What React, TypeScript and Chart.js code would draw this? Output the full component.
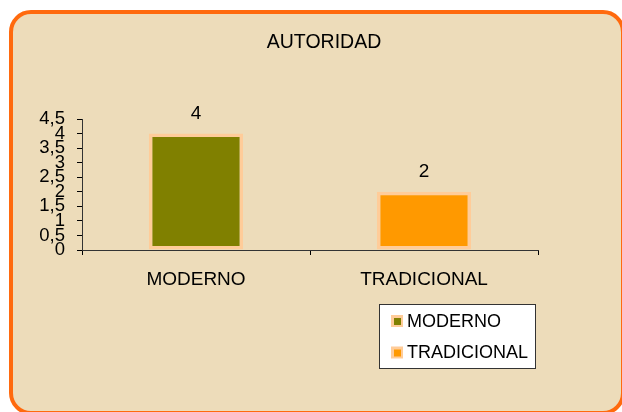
import React, { useEffect, useRef } from "react";
import { Chart, registerables } from "chart.js";

Chart.register(...registerables);

const TITLE = "AUTORIDAD";
const CATEGORIES = ["MODERNO", "TRADICIONAL"];
const VALUES = [4, 2];
const BAR_COLORS = ["#808000", "#FF9900"];
const Y_MIN = 0;
const Y_MAX = 4.5;
const Y_STEP = 0.5;

const FONT = "'Liberation Sans', Arial, sans-serif";

const framePlugin = {
  id: "frame",
  beforeDraw(chart: any) {
    const ctx = chart.ctx;
    ctx.save();
    ctx.fillStyle = "#ffffff";
    ctx.fillRect(0, 0, chart.width, chart.height);
    const x = 11, y = 12, w = 612, h = 401, r = 20;
    ctx.beginPath();
    ctx.moveTo(x + r, y);
    ctx.lineTo(x + w - r, y);
    ctx.arcTo(x + w, y, x + w, y + r, r);
    ctx.lineTo(x + w, y + h - r);
    ctx.arcTo(x + w, y + h, x + w - r, y + h, r);
    ctx.lineTo(x + r, y + h);
    ctx.arcTo(x, y + h, x, y + h - r, r);
    ctx.lineTo(x, y + r);
    ctx.arcTo(x, y, x + r, y, r);
    ctx.closePath();
    ctx.fillStyle = "#EDDCBA";
    ctx.fill();
    ctx.lineWidth = 4;
    ctx.strokeStyle = "#FF6A0E";
    ctx.stroke();
    // title
    ctx.fillStyle = "#000";
    ctx.font = `19.5px ${FONT}`;
    ctx.textAlign = "center";
    ctx.textBaseline = "middle";
    ctx.fillText(TITLE, 324, 43);
    ctx.restore();
  },
  afterDatasetsDraw(chart: any) {
    const ctx = chart.ctx;
    const meta = chart.getDatasetMeta(0);
    ctx.save();
    ctx.fillStyle = "#000";
    ctx.font = `19px ${FONT}`;
    ctx.textAlign = "center";
    ctx.textBaseline = "middle";
    meta.data.forEach((el: any, i: number) => {
      ctx.fillText(String(VALUES[i]), el.x, el.y - 20);
    });
    ctx.restore();
  },
  afterDraw(chart: any) {
    const ctx = chart.ctx;
    ctx.save();
    const bx = 379.5, by = 304.5, bw = 156, bh = 64;
    ctx.fillStyle = "#ffffff";
    ctx.fillRect(bx, by, bw, bh);
    ctx.strokeStyle = "#333333";
    ctx.lineWidth = 1;
    ctx.strokeRect(bx, by, bw, bh);
    ctx.font = `18px ${FONT}`;
    ctx.textAlign = "left";
    ctx.textBaseline = "middle";
    CATEGORIES.forEach((c, i) => {
      const cy = 321 + i * 31.5;
      ctx.fillStyle = "#FFCC99";
      ctx.fillRect(391, cy - 6, 12, 12);
      ctx.fillStyle = BAR_COLORS[i];
      ctx.fillRect(394, cy - 3, 7, 7);
      ctx.fillStyle = "#000";
      ctx.fillText(c, 407, cy + 1);
    });
    ctx.restore();
  },
};

export default function App() {
  const ref = useRef<HTMLCanvasElement | null>(null);
  useEffect(() => {
    if (!ref.current) return;
    const chart = new Chart(ref.current, {
      type: "bar",
      data: {
        labels: CATEGORIES,
        datasets: [
          {
            data: VALUES,
            backgroundColor: BAR_COLORS,
            borderColor: "#FFCC99",
            borderWidth: 3.5,
            borderSkipped: false,
            barPercentage: 0.413,
            categoryPercentage: 1,
          },
        ],
      },
      options: {
        responsive: false,
        animation: false,
        layout: { padding: { top: 119, right: 84, left: 0, bottom: 0 } },
        plugins: {
          legend: { display: false },
          title: { display: false },
          tooltip: { enabled: false },
        },
        scales: {
          x: {
            grid: {
              offset: true,
              drawOnChartArea: false,
              drawTicks: true,
              tickLength: 5,
              color: "#000",
            },
            border: { color: "#333", width: 1 },
            ticks: {
              color: "#000",
              font: { family: FONT, size: 19 },
              padding: 13,
              maxRotation: 0,
            },
            afterFit(s: any) {
              s.height = 162;
            },
          },
          y: {
            min: Y_MIN,
            max: Y_MAX,
            grid: {
              drawOnChartArea: false,
              drawTicks: true,
              tickLength: 5,
              color: "#000",
            },
            border: { color: "#333", width: 1 },
            ticks: {
              stepSize: Y_STEP,
              autoSkip: false,
              color: "#000",
              font: { family: FONT, size: 18.5 },
              padding: 12,
              callback: (v: any) => String(v).replace(".", ","),
            },
            afterFit(s: any) {
              s.width = 82;
            },
          },
        },
      },
      plugins: [framePlugin],
    });
    return () => chart.destroy();
  }, []);
  return (
    <div style={{ position: "absolute", left: 0, top: 0, width: 622, height: 412 }}>
      <canvas ref={ref} width={622} height={412} style={{ width: 622, height: 412, display: "block" }} />
    </div>
  );
}
